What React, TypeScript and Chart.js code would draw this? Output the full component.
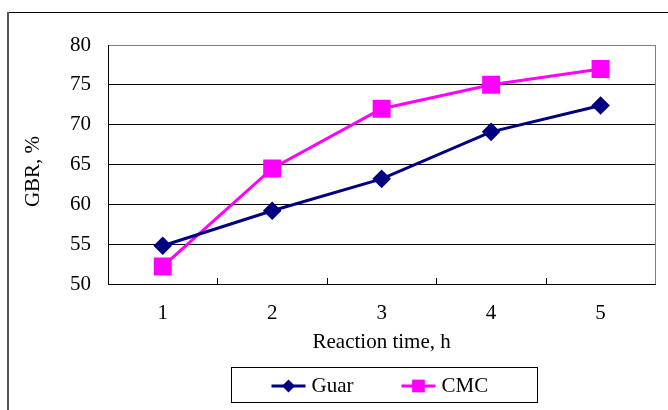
import React, { useEffect, useRef } from 'react';
import { Chart, registerables } from 'chart.js';

Chart.register(...registerables);

const categories = ['1', '2', '3', '4', '5'];
const guarValues = [54.8, 59.2, 63.2, 69.1, 72.4];
const cmcValues = [52.2, 64.5, 72.0, 75.0, 77.0];
const seriesNames = ['Guar', 'CMC'];
const seriesColors = ['#000080', '#FF00FF'];
const yMin = 50;
const yMax = 80;
const yStep = 5;
const xTitle = 'Reaction time, h';
const yTitle = 'GBR, %';

const FONT = '"Liberation Serif", "Times New Roman", serif';
const FONT_SIZE = 21;

const decorPlugin = {
  id: 'decor',
  beforeDraw(chart: any) {
    const ctx = chart.ctx;
    ctx.save();
    ctx.fillStyle = '#ffffff';
    ctx.fillRect(0, 0, chart.width, chart.height);
    ctx.fillStyle = '#000000';
    ctx.fillRect(8, 12, chart.width - 8, 1);
    ctx.fillStyle = '#555555';
    ctx.fillRect(7, 12, 2, chart.height - 12);
    ctx.restore();
  },
  beforeDatasetsDraw(chart: any) {
    const ctx = chart.ctx;
    const { right, top, bottom } = chart.chartArea;
    const xs = chart.scales.x;
    ctx.save();
    ctx.strokeStyle = '#808080';
    ctx.lineWidth = 1;
    ctx.beginPath();
    ctx.moveTo(Math.round(right) + 0.5, top);
    ctx.lineTo(Math.round(right) + 0.5, bottom);
    ctx.stroke();
    const half = (xs.getPixelForValue(1) - xs.getPixelForValue(0)) / 2;
    ctx.strokeStyle = '#000000';
    ctx.beginPath();
    for (let i = 1; i < categories.length; i++) {
      const x = Math.round(xs.getPixelForValue(i) - half) + 0.5;
      ctx.moveTo(x, bottom - 6);
      ctx.lineTo(x, bottom);
    }
    ctx.stroke();
    ctx.restore();
  },
  afterDraw(chart: any) {
    const ctx = chart.ctx;
    const { left, right, top, bottom } = chart.chartArea;
    ctx.save();
    ctx.fillStyle = '#000';
    ctx.font = `${FONT_SIZE}px ${FONT}`;
    ctx.textAlign = 'center';
    ctx.textBaseline = 'middle';
    ctx.translate(33, (top + bottom) / 2 + 7);
    ctx.rotate(-Math.PI / 2);
    ctx.fillText(yTitle, 0, 0);
    ctx.restore();

    ctx.save();
    const boxW = 306;
    const boxH = 35;
    const cx = (left + right) / 2 + 2;
    const bx = Math.round(cx - boxW / 2) + 0.5;
    const by = 367.5;
    ctx.fillStyle = '#fff';
    ctx.fillRect(bx, by, boxW, boxH);
    ctx.strokeStyle = '#000';
    ctx.lineWidth = 1;
    ctx.strokeRect(bx, by, boxW, boxH);
    ctx.font = `${FONT_SIZE}px ${FONT}`;
    ctx.textBaseline = 'middle';
    ctx.textAlign = 'left';
    let x = bx + 40;
    const y = by + boxH / 2 + 1;
    const styles = ['rectRot', 'rect'];
    const radii = [6.5, 9];
    for (let i = 0; i < seriesNames.length; i++) {
      ctx.strokeStyle = seriesColors[i];
      ctx.fillStyle = seriesColors[i];
      ctx.lineWidth = 3;
      ctx.beginPath();
      ctx.moveTo(x, y);
      ctx.lineTo(x + 34, y);
      ctx.stroke();
      ctx.beginPath();
      if (styles[i] === 'rectRot') {
        const r = radii[i];
        ctx.moveTo(x + 17, y - r);
        ctx.lineTo(x + 17 + r, y);
        ctx.lineTo(x + 17, y + r);
        ctx.lineTo(x + 17 - r, y);
        ctx.closePath();
      } else {
        const s = radii[i] * Math.SQRT1_2;
        ctx.rect(x + 17 - s, y - s, 2 * s, 2 * s);
      }
      ctx.fill();
      ctx.fillStyle = '#000';
      ctx.fillText(seriesNames[i], x + 40, y);
      x += 40 + ctx.measureText(seriesNames[i]).width + 48;
    }
    ctx.restore();
  },
};

export default function App() {
  const ref = useRef<HTMLCanvasElement | null>(null);

  useEffect(() => {
    if (!ref.current) return;
    const chart = new Chart(ref.current, {
      type: 'line',
      data: {
        labels: categories,
        datasets: [
          {
            label: seriesNames[0],
            data: guarValues,
            borderColor: seriesColors[0],
            backgroundColor: seriesColors[0],
            borderWidth: 3,
            pointStyle: 'rectRot',
            pointRadius: 9.3,
            pointBorderWidth: 0,
            pointBackgroundColor: seriesColors[0],
            tension: 0,
          },
          {
            label: seriesNames[1],
            data: cmcValues,
            borderColor: seriesColors[1],
            backgroundColor: seriesColors[1],
            borderWidth: 3,
            pointStyle: 'rect',
            pointRadius: 12.7,
            pointBorderWidth: 0,
            pointBackgroundColor: seriesColors[1],
            tension: 0,
          },
        ],
      },
      options: {
        responsive: false,
        animation: false,
        layout: { padding: { left: 0, top: 45, right: 7, bottom: 0 } },
        plugins: {
          legend: { display: false },
          tooltip: { enabled: false },
        },
        scales: {
          x: {
            type: 'category',
            offset: true,
            grid: { display: false },
            border: { display: true, color: '#000', width: 1 },
            ticks: {
              color: '#000',
              font: { family: FONT, size: FONT_SIZE },
              padding: 9,
              maxRotation: 0,
            },
            title: {
              display: true,
              text: xTitle,
              color: '#000',
              font: { family: FONT, size: FONT_SIZE },
              padding: { top: 0, bottom: 55 },
            },
            afterFit: (s: any) => {
              s.height = 126;
              s.paddingLeft = 0;
              s.paddingRight = 0;
            },
          },
          y: {
            min: yMin,
            max: yMax,
            ticks: {
              stepSize: yStep,
              color: '#000',
              font: { family: FONT, size: FONT_SIZE },
              padding: 17,
            },
            grid: {
              drawTicks: false,
              color: (c: any) => (c.tick && c.tick.value === yMax ? '#808080' : '#000'),
              lineWidth: 1,
            },
            border: { display: true, color: '#000', width: 1 },
            afterFit: (s: any) => {
              s.width = 108;
              s.paddingTop = 0;
              s.paddingBottom = 0;
            },
          },
        },
      },
      plugins: [decorPlugin],
    });
    return () => chart.destroy();
  }, []);

  return (
    <div style={{ position: 'fixed', left: 0, top: 0, width: 668, height: 410 }}>
      <canvas ref={ref} width={668} height={410} />
    </div>
  );
}
